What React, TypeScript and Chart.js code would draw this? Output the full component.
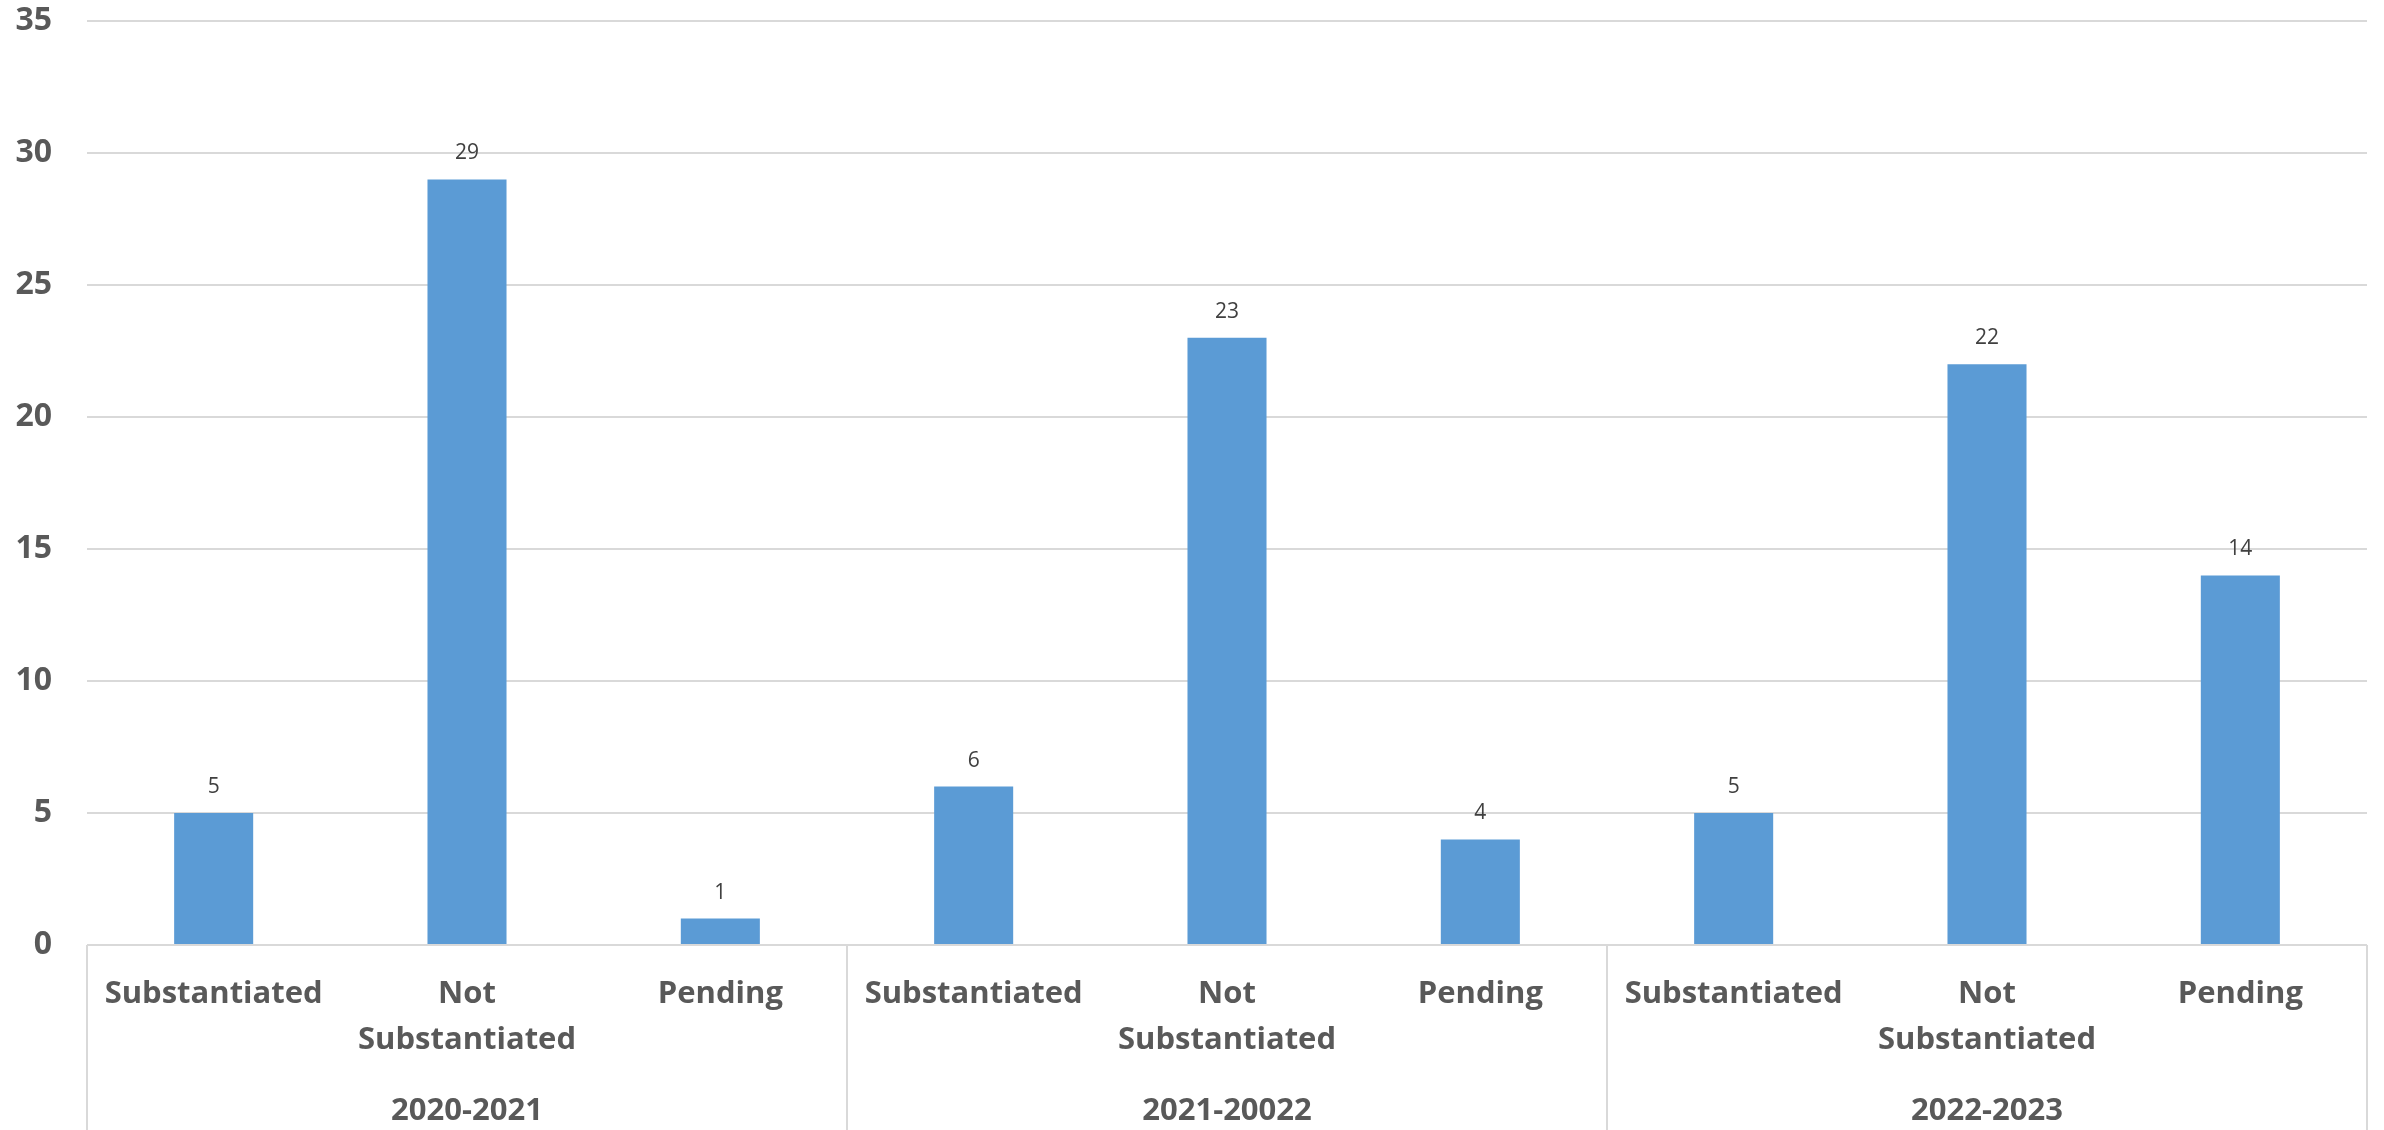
import React, { useEffect, useRef } from "react";
import { Chart, registerables } from "chart.js";

Chart.register(...registerables);

const subCategories: (string | string[])[] = [
  "Substantiated", ["Not", "Substantiated"], "Pending",
  "Substantiated", ["Not", "Substantiated"], "Pending",
  "Substantiated", ["Not", "Substantiated"], "Pending",
];
const yearGroups: string[] = ["2020-2021", "2021-20022", "2022-2023"];
const complaintCounts: number[] = [5, 29, 1, 6, 23, 4, 5, 22, 14];
const yTickStep = 5;
const yMax = 35;

const FONT = "'Open Sans', 'Noto Sans', sans-serif";
const BAR_COLOR = "#5B9BD5";
const GRID_COLOR = "#D9D9D9";
const TICK_COLOR = "#595959";
const LABEL_COLOR = "#404040";

const valueLabelPlugin = {
  id: "valueLabels",
  afterDatasetsDraw(chart: any) {
    const ctx = chart.ctx;
    const meta = chart.getDatasetMeta(0);
    ctx.save();
    ctx.font = `400 21px ${FONT}`;
    ctx.fillStyle = LABEL_COLOR;
    ctx.textAlign = "center";
    ctx.textBaseline = "middle";
    meta.data.forEach((el: any, i: number) => {
      const v = chart.data.datasets[0].data[i];
      ctx.fillText(String(v), el.x, el.y - 26);
    });
    ctx.restore();
  },
};

const groupDividerPlugin = {
  id: "groupDividers",
  afterDraw(chart: any) {
    const ctx = chart.ctx;
    const x = chart.scales.x;
    const n = subCategories.length;
    const per = n / yearGroups.length;
    const step = (x.right - x.left) / n;
    ctx.save();
    ctx.strokeStyle = GRID_COLOR;
    ctx.lineWidth = 2;
    for (let k = 0; k <= yearGroups.length; k++) {
      const px = Math.round(x.left + k * per * step);
      ctx.beginPath();
      ctx.moveTo(px, chart.chartArea.bottom);
      ctx.lineTo(px, chart.height);
      ctx.stroke();
    }
    ctx.restore();
  },
};

export default function App() {
  const ref = useRef<HTMLCanvasElement | null>(null);

  useEffect(() => {
    if (!ref.current) return;
    const chart = new Chart(ref.current, {
      type: "bar",
      data: {
        labels: subCategories as any,
        datasets: [
          {
            data: complaintCounts,
            backgroundColor: BAR_COLOR,
            borderWidth: 0,
            categoryPercentage: 1,
            barPercentage: 0.312,
          },
        ],
      },
      options: {
        animation: false,
        responsive: false,
        devicePixelRatio: 1,
        layout: { padding: { top: 21, right: 17, bottom: 0, left: 0 } },
        plugins: {
          legend: { display: false },
          tooltip: { enabled: false },
        },
        scales: {
          y: {
            min: 0,
            max: yMax,
            ticks: {
              stepSize: yTickStep,
              color: TICK_COLOR,
              font: { family: FONT, size: 32, weight: "bold" },
              padding: 0,
            },
            grid: {
              color: GRID_COLOR,
              lineWidth: 2,
              drawTicks: true,
              tickLength: 35,
              tickColor: "rgba(0,0,0,0)",
            },
            border: { display: false },
            afterFit(scale: any) {
              scale.width = 87;
            },
          },
          x: {
            position: "bottom",
            offset: true,
            ticks: {
              color: TICK_COLOR,
              font: { family: FONT, size: 31, weight: "bold", lineHeight: 1.48 },
              padding: 26,
              autoSkip: false,
              maxRotation: 0,
              minRotation: 0,
            },
            grid: { display: false, drawTicks: false },
            border: { display: false },
            afterFit(scale: any) {
              scale.height = 130;
            },
          },
          x2: {
            type: "category",
            position: "bottom",
            labels: yearGroups,
            offset: true,
            ticks: {
              color: TICK_COLOR,
              font: { family: FONT, size: 31, weight: "bold", lineHeight: 1.48 },
              padding: 13,
              autoSkip: false,
              maxRotation: 0,
              minRotation: 0,
            },
            grid: { display: false, drawTicks: false },
            border: { display: false },
            afterFit(scale: any) {
              scale.height = 55;
            },
          },
        },
      } as any,
      plugins: [valueLabelPlugin, groupDividerPlugin],
    });
    return () => chart.destroy();
  }, []);

  return (
    <div style={{ position: "fixed", left: 0, top: 0, width: 2384, height: 1130, background: "#fff" }}>
      <canvas ref={ref} width={2384} height={1130} style={{ display: "block" }} />
    </div>
  );
}
